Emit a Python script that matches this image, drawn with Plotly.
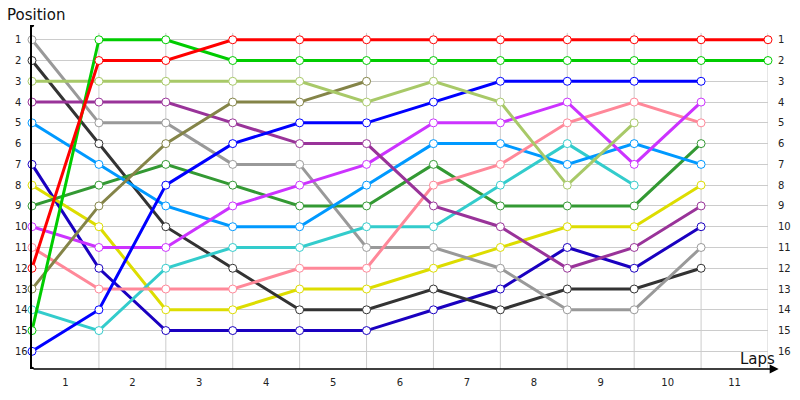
import plotly.graph_objects as go

laps = list(range(0, 12))
lap_labels = [str(i) for i in range(1, 12)]
positions = list(range(1, 17))

series_names = ["Red", "Green", "LightGreen", "Olive", "Blue", "Purple", "Magenta",
                "Pink", "LightBlue", "Teal", "DarkGreen", "Gray", "DarkGray", "Yellow", "Navy"]
series_colors = ["#ff0000", "#00cc00", "#a8c968", "#848448", "#0000ff", "#993399", "#cc33ff",
                 "#ff8899", "#0099ff", "#33cccc", "#339933", "#999999", "#333333", "#dddd00", "#1a00c0"]

red        = [12, 2, 2, 1, 1, 1, 1, 1, 1, 1, 1, 1]
green      = [15, 1, 1, 2, 2, 2, 2, 2, 2, 2, 2, 2]
lightgreen = [3, 3, 3, 3, 3, 4, 3, 4, 8, 5, None, None]
olive      = [13, 9, 6, 4, 4, 3, None, None, None, None, None, None]
blue       = [16, 14, 8, 6, 5, 5, 4, 3, 3, 3, 3, None]
purple     = [4, 4, 4, 5, 6, 6, 9, 10, 12, 11, 9, None]
magenta    = [10, 11, 11, 9, 8, 7, 5, 5, 4, 7, 4, None]
pink       = [11, 13, 13, 13, 12, 12, 8, 7, 5, 4, 5, None]
lightblue  = [5, 7, 9, 10, 10, 8, 6, 6, 7, 6, 7, None]
teal       = [14, 15, 12, 11, 11, 10, 10, 8, 6, 8, None, None]
darkgreen  = [9, 8, 7, 8, 9, 9, 7, 9, 9, 9, 6, None]
gray       = [1, 5, 5, 7, 7, 11, 11, 12, 14, 14, 11, None]
darkgray   = [2, 6, 10, 12, 14, 14, 13, 14, 13, 13, 12, None]
yellow     = [8, 10, 14, 14, 13, 13, 12, 11, 10, 10, 8, None]
navy       = [7, 12, 15, 15, 15, 15, 14, 13, 11, 12, 10, None]

series_values = [red, green, lightgreen, olive, blue, purple, magenta, pink,
                 lightblue, teal, darkgreen, gray, darkgray, yellow, navy]

FONT = "DejaVu Sans"
Y_TOP, Y_BOT = 0.29, 16.85

fig = go.Figure()

# draw order: later on top
order = list(range(len(series_values)))[::-1]
for i in order:
    fig.add_trace(go.Scatter(
        x=laps, y=series_values[i], mode="lines+markers", name=series_names[i],
        line=dict(color=series_colors[i], width=3),
        marker=dict(size=8, color="white", line=dict(color=series_colors[i], width=1)),
        cliponaxis=False, showlegend=False, hoverinfo="skip"))

shapes = []
for lx in laps[1:]:
    shapes.append(dict(type="line", xref="x", yref="y", x0=lx, x1=lx, y0=0.67, y1=Y_BOT,
                       line=dict(color="#cccccc", width=1), layer="below"))
for yy in (Y_TOP, Y_BOT):
    shapes.append(dict(type="circle", xref="x", yref="y", xsizemode="pixel", ysizemode="pixel",
                       xanchor=0, yanchor=yy, x0=-2.2, x1=2.2, y0=-2.2, y1=2.2,
                       fillcolor="black", line=dict(color="black", width=0)))

annotations = []
for p in positions:
    annotations.append(dict(xref="paper", yref="y", x=-19 / 736, y=p, text=str(p),
                            xanchor="left", yanchor="middle", showarrow=False,
                            font=dict(family=FONT, size=10, color="#222222")))
    annotations.append(dict(xref="paper", yref="y", x=1 + 8 / 736, y=p, text=str(p),
                            xanchor="left", yanchor="middle", showarrow=False,
                            font=dict(family=FONT, size=10, color="#222222")))

annotations.append(dict(xref="x", yref="y", axref="x", ayref="y", x=11.16, y=Y_BOT, ax=0, ay=Y_BOT,
                        text="", showarrow=True, arrowhead=2, arrowsize=1.2, arrowwidth=1.5,
                        arrowcolor="black"))
annotations.append(dict(xref="paper", yref="paper", x=-27 / 736, y=1 + 10 / 351, text="Position",
                        xanchor="left", yanchor="middle", showarrow=False,
                        font=dict(family=FONT, size=15, color="#111111")))
annotations.append(dict(xref="paper", yref="paper", x=1 - 30 / 736, y=10 / 351, text="Laps",
                        xanchor="left", yanchor="middle", showarrow=False,
                        font=dict(family=FONT, size=15, color="#111111")))

fig.update_layout(
    width=800, height=400,
    margin=dict(l=32, r=32, t=25, b=24),
    paper_bgcolor="white", plot_bgcolor="white",
    font=dict(family=FONT, size=10, color="#222222"),
    xaxis=dict(range=[0, 11], tickvals=[l + 0.5 for l in laps[:-1]], ticktext=lap_labels,
               showgrid=False, zeroline=False, showline=False, ticks="outside", ticklen=4,
               tickcolor="rgba(0,0,0,0)", tickfont=dict(family=FONT, size=10)),
    yaxis=dict(range=[Y_BOT, Y_TOP], tickvals=positions, showticklabels=False,
               showgrid=True, gridcolor="#cccccc", gridwidth=1, zeroline=False,
               showline=True, linecolor="black", linewidth=2, ticks=""),
    shapes=shapes, annotations=annotations,
)

fig.write_html("out.html", config={"displayModeBar": False},
               post_script="document.body.style.margin='0px';document.body.style.overflow='hidden';")
